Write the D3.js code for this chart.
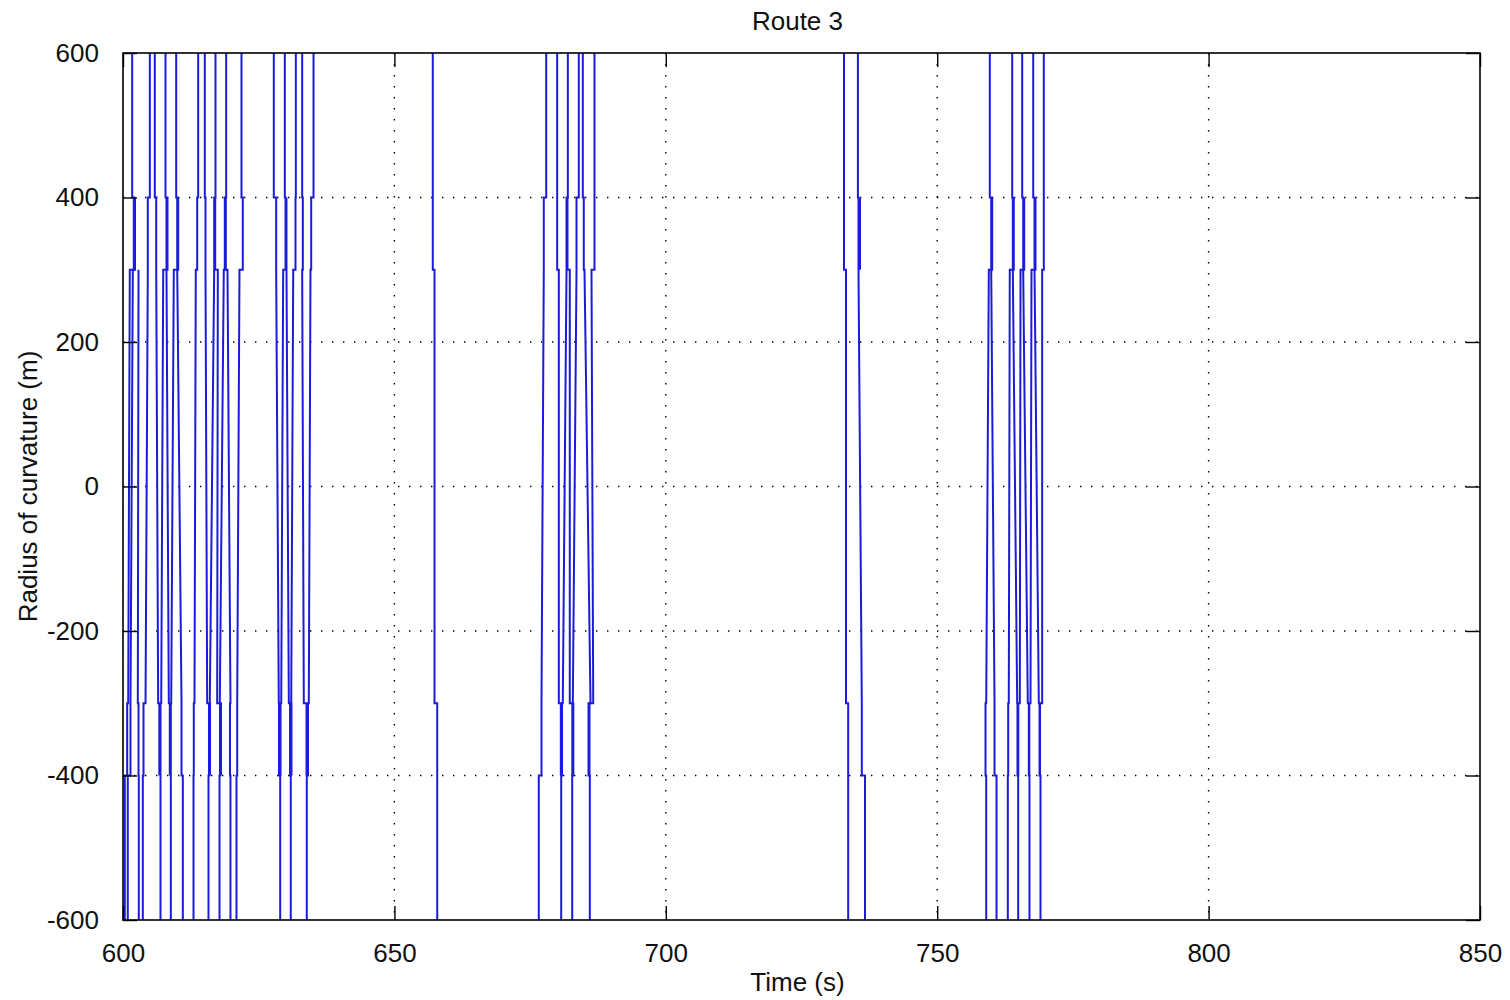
<!DOCTYPE html>
<html>
<head>
<meta charset="utf-8">
<script src="https://cdn.jsdelivr.net/npm/d3@7"></script>
<style>
  body { margin: 0; background: #fff; }
  text { font-family: "Liberation Sans", Arial, sans-serif; fill: #111; }
</style>
</head>
<body>
<div class="chart"></div>
<script>
// axis ticks
const xTicks = [600, 650, 700, 750, 800, 850];
const yTicks = [-600, -400, -200, 0, 200, 400, 600];

// radius values where the trace steps sideways (off-scale parts get clipped)
const bandLevels = [[650, 400], [400, 300], [300], [-300], [-300, -400], [-400, -650]];

// each strand: time (s) of the trace in each band
// [above 400, 400..300, at 300, at -300, -300..-400, below -400], null = no trace there
const group1 = [
  [601.69, 601.99, 601.81, 601.38, 601.38, 600.88],
  [null, 602.21, 601.25, 600.96, 600.77, 600.33],
  [604.94, 604.57, 604.57, 604.15, 603.78, 603.65],
  [605.86, 606.12, 606.12, 606.48, 606.69, null],
  [607.83, 608.01, 608.01, 608.44, 608.62, null],
  [null, 608.20, 607.41, 607.04, 606.91, 606.91],
  [609.80, 609.99, 609.99, 610.78, 610.78, 611.02],
  [null, 610.17, 609.36, 608.88, 608.81, 608.81],
  [613.85, 613.67, 613.41, 613.17, 613.04, 612.99],
  [615.07, 615.20, 615.20, 615.51, 615.84, 615.75],
  [617.04, 616.80, 616.80, 615.99, 616.03, null],
  [null, 616.99, 617.47, 617.35, 617.87, 617.78],
  [619.01, 618.75, 618.57, 617.83, 618.05, null],
  [null, 618.94, 619.25, 619.80, 619.71, 619.80],
  [621.83, 622.07, 621.46, 621.04, 621.04, 620.91],
  [null, null, 602.86, 602.73, 602.86, 602.91]
];
const group2 = [
  [627.78, 628.22, 628.22, 628.70, 628.74, 628.96],
  [629.81, 629.94, 629.51, 629.15, 629.02, null],
  [null, 630.12, 630.12, 630.55, 630.77, 630.91],
  [631.84, 631.78, 631.36, 630.99, 631.04, null],
  [633.01, 633.13, 633.01, 633.31, 633.81, null],
  [635.10, 634.67, 634.54, 634.23, 634.08, 633.86]
];
const group3 = [
  [657.07, 657.07, 657.39, 657.39, 657.89, 657.89]
];
const group4 = [
  [677.97, 677.52, 677.52, 677.10, 677.10, 676.60],
  [679.99, 679.99, 680.29, 680.29, 680.66, null],
  [681.95, 681.71, 681.71, 681.02, 680.88, 680.73],
  [null, 681.89, 682.31, 682.31, 682.78, null],
  [683.97, 683.55, 683.55, 682.87, 682.96, 682.76],
  [684.71, 684.89, 685.02, 686.13, 685.76, 686.00],
  [686.86, 686.86, 686.31, 686.63, 685.94, null]
];
const group5 = [
  [732.83, 732.83, 733.20, 733.20, 733.60, 733.60],
  [735.39, 735.50, 735.50, 736.11, 736.11, 736.70],
  [null, 735.78, null, null, null, null]
];
const group6 = [
  [759.69, 759.95, 759.95, 760.56, 760.56, 760.93],
  [null, 760.13, 759.51, 759.03, 758.90, 759.03],
  [763.82, 763.93, 763.93, 764.74, 764.79, 764.92],
  [null, 764.11, 763.37, 763.19, 763.08, 763.01],
  [765.66, 765.84, 765.84, 766.69, 766.88, 767.00],
  [null, 766.03, 765.35, 765.22, 764.94, null],
  [767.69, 767.93, 767.93, 768.72, 768.85, 769.03],
  [null, 768.11, 767.37, 767.19, 766.97, null],
  [769.64, 769.64, 769.34, 769.34, 768.94, null]
];

const strands = [].concat(group1, group2, group3, group4, group5, group6);

const margin = {top: 53, left: 123};
const width = 1357;
const height = 867;

const svg = d3.select('.chart')
  .append('svg')
  .attr('width', 1510)
  .attr('height', 1000);

const g = svg.append('g')
  .attr('transform', `translate(${margin.left},${margin.top})`);

const x = d3.scaleLinear().domain([600, 850]).range([0, width]);
const y = d3.scaleLinear().domain([-600, 600]).range([height, 0]);

// dotted grid
g.append('g').selectAll('line')
  .data(xTicks.slice(1, -1))
  .join('line')
  .attr('x1', d => x(d)).attr('x2', d => x(d))
  .attr('y1', 0).attr('y2', height)
  .attr('stroke', '#000')
  .attr('stroke-width', 1.4)
  .attr('stroke-dasharray', '1.4,9.6');

g.append('g').selectAll('line')
  .data(yTicks.slice(1, -1))
  .join('line')
  .attr('y1', d => y(d)).attr('y2', d => y(d))
  .attr('x1', 0).attr('x2', width)
  .attr('stroke', '#000')
  .attr('stroke-width', 1.4)
  .attr('stroke-dasharray', '1.4,9.6');

// trace
g.append('clipPath').attr('id', 'plotclip')
  .append('rect').attr('width', width).attr('height', height);

const line = d3.line().x(d => x(d[0])).y(d => y(d[1]));

function strandPoints(s) {
  const pts = [];
  s.forEach((t, i) => {
    if (t === null) return;
    bandLevels[i].forEach(v => pts.push([t, v]));
  });
  return pts;
}

g.append('g')
  .attr('clip-path', 'url(#plotclip)')
  .selectAll('path')
  .data(strands)
  .join('path')
  .attr('d', d => line(strandPoints(d)))
  .attr('fill', 'none')
  .attr('stroke', '#1c1cd8')
  .attr('stroke-width', 2);

// axes with inward ticks on all four sides
const tickLen = 14;
const fmt = d => String(d);
const axisStyle = sel => {
  sel.select('.domain').remove();
  sel.selectAll('line').attr('stroke', '#000').attr('stroke-width', 1.4);
  sel.selectAll('text').style('font-size', '26px').attr('fill', '#111');
};

g.append('g')
  .attr('transform', `translate(0,${height})`)
  .call(d3.axisBottom(x).tickValues(xTicks).tickSize(-tickLen).tickPadding(24).tickFormat(fmt))
  .call(axisStyle);

g.append('g')
  .call(d3.axisTop(x).tickValues(xTicks).tickSize(-tickLen).tickFormat(''))
  .call(axisStyle);

g.append('g')
  .call(d3.axisLeft(y).tickValues(yTicks).tickSize(-tickLen).tickPadding(24).tickFormat(fmt))
  .call(axisStyle);

g.append('g')
  .attr('transform', `translate(${width},0)`)
  .call(d3.axisRight(y).tickValues(yTicks).tickSize(-tickLen).tickFormat(''))
  .call(axisStyle);

g.append('rect')
  .attr('width', width).attr('height', height)
  .attr('fill', 'none').attr('stroke', '#000').attr('stroke-width', 1.6);

// labels
svg.append('text')
  .attr('x', margin.left + width / 2 - 4).attr('y', 30)
  .attr('text-anchor', 'middle')
  .style('font-size', '26px')
  .text('Route 3');

svg.append('text')
  .attr('x', margin.left + width / 2 - 4).attr('y', 991)
  .attr('text-anchor', 'middle')
  .style('font-size', '26px')
  .text('Time (s)');

svg.append('text')
  .attr('transform', `translate(37,${margin.top + height / 2}) rotate(-90)`)
  .attr('text-anchor', 'middle')
  .style('font-size', '26px')
  .text('Radius of curvature (m)');
</script>
</body>
</html>
